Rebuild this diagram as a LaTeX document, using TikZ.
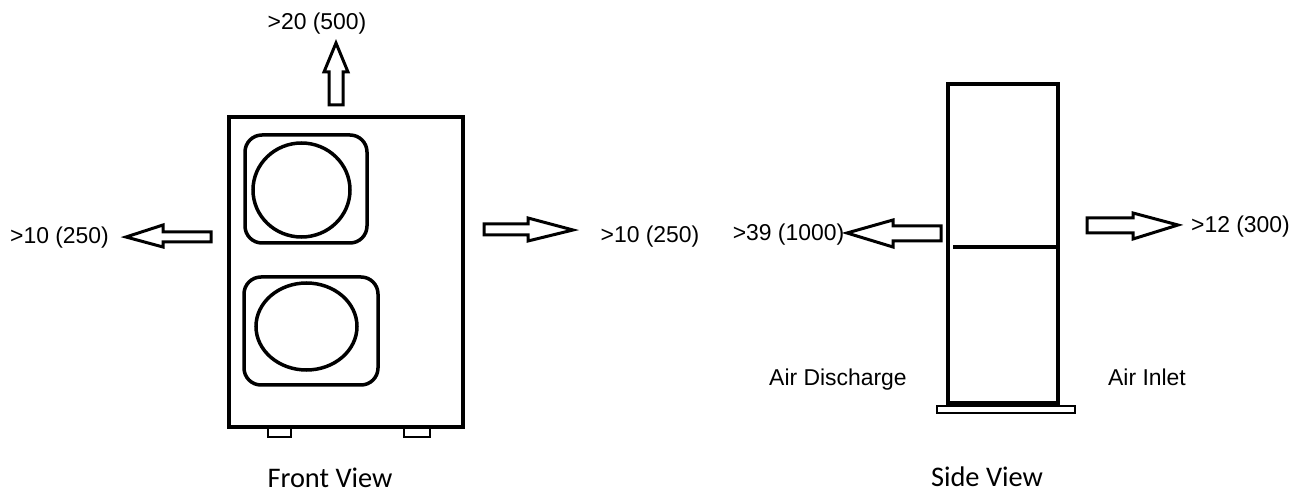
\documentclass[tikz,border=0pt]{standalone}
\usepackage{fontspec}
\setmainfont{Liberation Sans}
\newfontfamily\calib{Carlito}
\begin{document}
\begin{tikzpicture}[x=1bp,y=-1bp,
  line/.style={line width=3.5bp, line join=miter},
  blockarrow/.style={line width=3bp, line join=miter, fill=white},
  lbl/.style={inner sep=0pt, anchor=base, font=\fontsize{23}{27}\selectfont},
  viewcap/.style={inner sep=0pt, anchor=base, font=\calib\fontsize{28.5}{34}\selectfont}]
\useasboundingbox (0,0) rectangle (1298,494);
% ---------- Front view ----------
\draw[line] (229,117) rectangle (463,427);
\draw[line, rounded corners=17bp] (245,135) rectangle (367,243);
\draw[line] (301.5,190) ellipse [x radius=48.5, y radius=47];
\draw[line, rounded corners=17bp] (244,277) rectangle (378,385);
\draw[line] (306.5,326.5) ellipse [x radius=50.5, y radius=43.5];
\draw[line width=2.8bp] (268,427) rectangle (291,437);
\draw[line width=2.8bp] (404,427) rectangle (430,437);
% up arrow
\draw[blockarrow] (329,105) -- (329,72) -- (324,72) -- (336,43) -- (348,72) -- (343,72) -- (343,105) -- cycle;
% left arrow (front)
\draw[blockarrow] (211,232) -- (163,232) -- (163,225) -- (126,237) -- (163,247) -- (163,242) -- (211,242) -- cycle;
% right arrow (front)
\draw[blockarrow] (484,224) -- (528,224) -- (528,218) -- (573,230) -- (528,241) -- (528,235) -- (484,235) -- cycle;
\node[lbl] (t1) at (317,30) {>20 (500)};
\node[lbl] (t2) at (59.5,244) {>10 (250)};
\node[lbl] (t3) at (650,242.5) {>10 (250)};
\node[viewcap] (fv) at (330,487) {Front View};
% ---------- Side view ----------
\draw[line] (948,84) rectangle (1058,403);
\draw[line] (953,247) -- (1058,247);
\draw[line width=2.8bp] (937,406) rectangle (1075,413);
% left arrow (side)
\draw[blockarrow] (941,226) -- (893,226) -- (893,220) -- (847,233) -- (893,247) -- (893,241) -- (941,241) -- cycle;
% right arrow (side)
\draw[blockarrow] (1087,218) -- (1133,218) -- (1133,213) -- (1178,225) -- (1133,239) -- (1133,233) -- (1087,233) -- cycle;
\node[lbl] (t4) at (788.5,240.5) {>39 (1000)};
\node[lbl] (t5) at (1240.5,232.5) {>12 (300)};
\node[lbl] (ad) at (838,386) {Air Discharge};
\node[lbl] (ai) at (1147,386) {Air Inlet};
\node[viewcap] (sv) at (987,486) {Side View};
\end{tikzpicture}
\end{document}
